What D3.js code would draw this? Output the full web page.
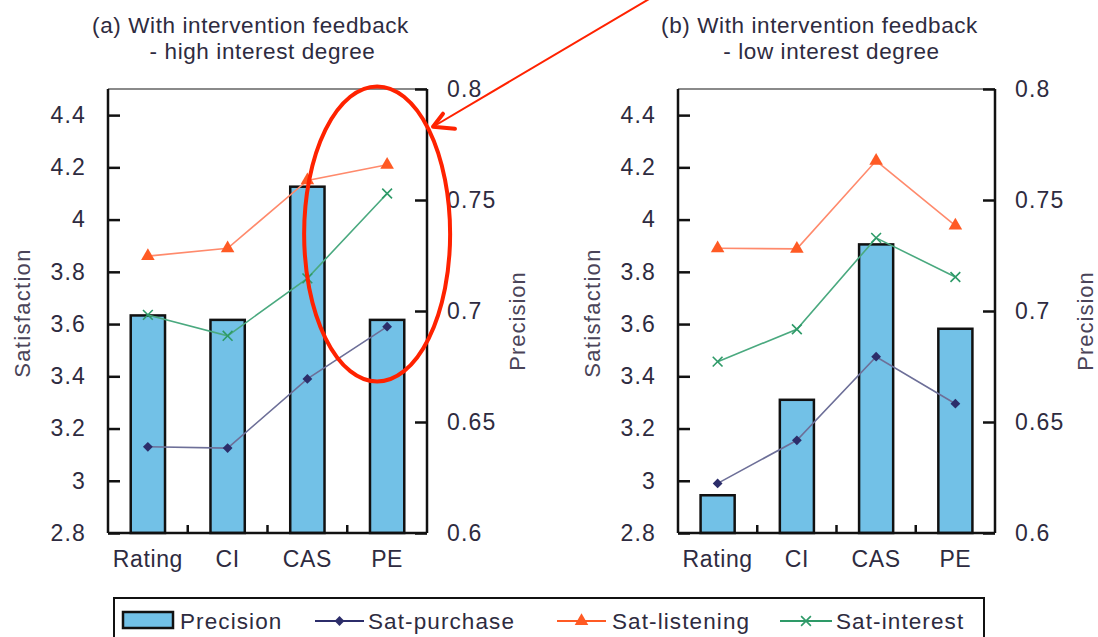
<!DOCTYPE html>
<html>
<head>
<meta charset="utf-8">
<script src="https://cdn.jsdelivr.net/npm/d3@7"></script>
<style>
  html, body { margin: 0; padding: 0; background: #fff; }
  svg { display: block; }
  text { font-family: "Liberation Sans", Arial, sans-serif; }
</style>
</head>
<body>
<svg id="chart" width="1098" height="637"></svg>
<script>
// Categories shared by both panels
const categories = ["Rating", "CI", "CAS", "PE"];

// Panel (a): high interest degree
const precisionHigh   = [0.698, 0.696, 0.756, 0.696];
const purchaseHigh    = [3.13, 3.125, 3.39, 3.59];
const listeningHigh   = [3.86, 3.89, 4.15, 4.21];
const interestHigh    = [3.635, 3.555, 3.775, 4.10];

// Panel (b): low interest degree
const precisionLow    = [0.617, 0.660, 0.730, 0.692];
const purchaseLow     = [2.99, 3.155, 3.475, 3.295];
const listeningLow    = [3.89, 3.888, 4.225, 3.977];
const interestLow     = [3.456, 3.58, 3.93, 3.78];

// Axis ticks
const satTicks  = [2.8, 3, 3.2, 3.4, 3.6, 3.8, 4, 4.2, 4.4];
const precTicks = [0.6, 0.65, 0.7, 0.75, 0.8];

const panels = [
  { title1: "(a) With intervention feedback", title2: "- high interest degree",
    precision: precisionHigh, purchase: purchaseHigh, listening: listeningHigh, interest: interestHigh,
    x0: 108, x1: 427 },
  { title1: "(b) With intervention feedback", title2: "- low interest degree",
    precision: precisionLow, purchase: purchaseLow, listening: listeningLow, interest: interestLow,
    x0: 678, x1: 995 }
];

const colors = {
  bar: "#72c1e7",
  purchase: "#2c2d6a", purchaseLine: "#6d6f98",
  listening: "#ff5a24", listeningLine: "#ff8a6c",
  interest: "#2e9a68", interestLine: "#4aa97f",
  text: "#2e2b40", axisTitle: "#4a4458"
};

const plotTop = 89, plotBottom = 533;
const svg = d3.select("#chart");

// Marker painters
function drawDiamond(g, x, y, c) {
  g.append("path").attr("d", d3.symbol(d3.symbolSquare, 48)())
    .attr("transform", `translate(${x},${y}) rotate(45)`).attr("fill", c);
}
function drawTriangle(g, x, y, c) {
  g.append("path").attr("d", d3.symbol(d3.symbolTriangle, 80)())
    .attr("transform", `translate(${x},${y})`).attr("fill", c);
}
function drawCross(g, x, y, c) {
  g.append("path").attr("d", d3.symbol(d3.symbolX, 64)())
    .attr("transform", `translate(${x},${y})`)
    .attr("fill", "none").attr("stroke", c).attr("stroke-width", 1.6);
}

const ySat = d3.scaleLinear().domain([2.8, 4.5]).range([plotBottom, plotTop]);
const yPrec = d3.scaleLinear().domain([0.6, 0.8]).range([plotBottom, plotTop]);

panels.forEach(p => {
  const g = svg.append("g");
  const x = d3.scaleBand().domain(categories).range([p.x0, p.x1])
    .paddingInner(0.57).paddingOuter(0.285);
  const cx = c => x(c) + x.bandwidth() / 2;
  const mid = (p.x0 + p.x1) / 2;

  // Titles
  g.append("text").attr("x", mid - 17).attr("y", 33).attr("text-anchor", "middle")
    .attr("font-size", 22.5).attr("letter-spacing", 0.6).attr("fill", colors.text).text(p.title1);
  g.append("text").attr("x", mid - 5).attr("y", 59).attr("text-anchor", "middle")
    .attr("font-size", 22.5).attr("letter-spacing", 0.6).attr("fill", colors.text).text(p.title2);

  // Bars on the precision axis
  g.selectAll("rect.bar").data(categories).join("rect")
    .attr("class", "bar")
    .attr("x", d => x(d)).attr("width", x.bandwidth())
    .attr("y", (d, i) => yPrec(p.precision[i]))
    .attr("height", (d, i) => plotBottom - yPrec(p.precision[i]))
    .attr("fill", colors.bar).attr("stroke", "#111").attr("stroke-width", 2.5);

  // Frame: grey top edge
  g.append("line").attr("x1", p.x0).attr("x2", p.x1).attr("y1", plotTop).attr("y2", plotTop)
    .attr("stroke", "#8a8a8a").attr("stroke-width", 2);

  // Left satisfaction axis (ticks point inward)
  const left = d3.axisLeft(ySat).tickValues(satTicks).tickSize(-12).tickPadding(22)
    .tickFormat(d3.format("~g"));
  const gl = g.append("g").attr("transform", `translate(${p.x0},0)`).call(left);
  gl.select(".domain").attr("stroke", "#111").attr("stroke-width", 2.5)
    .attr("d", `M0,${plotTop}V${plotBottom}`);
  gl.selectAll(".tick line").attr("stroke", "#111").attr("stroke-width", 2.5);
  gl.selectAll(".tick text").attr("font-size", 23).attr("letter-spacing", 1.2)
    .attr("fill", colors.text).attr("font-family", "Liberation Sans, Arial, sans-serif");

  // Right precision axis (ticks point inward)
  const right = d3.axisRight(yPrec).tickValues(precTicks).tickSize(-12).tickPadding(20)
    .tickFormat(d3.format("~g"));
  const gr = g.append("g").attr("transform", `translate(${p.x1},0)`).call(right);
  gr.select(".domain").attr("stroke", "#111").attr("stroke-width", 2.5)
    .attr("d", `M0,${plotTop}V${plotBottom}`);
  gr.selectAll(".tick line").attr("stroke", "#111").attr("stroke-width", 2.5);
  gr.selectAll(".tick text").attr("font-size", 23).attr("letter-spacing", 1.2)
    .attr("fill", colors.text).attr("font-family", "Liberation Sans, Arial, sans-serif");

  // Bottom category axis with separator ticks between bands
  g.append("line").attr("x1", p.x0).attr("x2", p.x1).attr("y1", plotBottom).attr("y2", plotBottom)
    .attr("stroke", "#111").attr("stroke-width", 2.5);
  const step = x.step();
  categories.slice(1).forEach((c, i) => {
    const bx = p.x0 + step * (i + 1);
    g.append("line").attr("x1", bx).attr("x2", bx).attr("y1", plotBottom).attr("y2", plotBottom - 8)
      .attr("stroke", "#111").attr("stroke-width", 2.5);
  });
  g.selectAll("text.cat").data(categories).join("text").attr("class", "cat")
    .attr("x", d => cx(d)).attr("y", plotBottom + 34).attr("text-anchor", "middle")
    .attr("font-size", 23).attr("letter-spacing", 0.6).attr("fill", colors.text).text(d => d);

  // Axis titles
  g.append("text").attr("transform", `translate(${p.x0 - 78},${(plotTop + plotBottom) / 2 + 2}) rotate(-90)`)
    .attr("text-anchor", "middle").attr("font-size", 22).attr("letter-spacing", 1.3)
    .attr("fill", colors.axisTitle).text("Satisfaction");
  g.append("text").attr("transform", `translate(${p.x1 + 98},${(plotTop + plotBottom) / 2 + 10}) rotate(-90)`)
    .attr("text-anchor", "middle").attr("font-size", 22).attr("letter-spacing", 1.0)
    .attr("fill", colors.axisTitle).text("Precision");

  // Satisfaction series
  const series = [
    { vals: p.purchase, line: colors.purchaseLine, mark: colors.purchase, draw: drawDiamond },
    { vals: p.interest, line: colors.interestLine, mark: colors.interest, draw: drawCross },
    { vals: p.listening, line: colors.listeningLine, mark: colors.listening, draw: drawTriangle }
  ];
  const lineGen = d3.line().x((d, i) => cx(categories[i])).y(d => ySat(d));
  series.forEach(s => {
    g.append("path").attr("d", lineGen(s.vals)).attr("fill", "none")
      .attr("stroke", s.line).attr("stroke-width", 1.6);
    s.vals.forEach((v, i) => s.draw(g, cx(categories[i]), ySat(v), s.mark));
  });

  p.xScale = x;
});

// Legend
const legend = svg.append("g");
legend.append("rect").attr("x", 114).attr("y", 598).attr("width", 870).attr("height", 60)
  .attr("fill", "none").attr("stroke", "#111").attr("stroke-width", 2);
legend.append("rect").attr("x", 123).attr("y", 612).attr("width", 50).attr("height", 16)
  .attr("fill", colors.bar).attr("stroke", "#111").attr("stroke-width", 2.5);
const legendText = (x, t) => legend.append("text").attr("x", x).attr("y", 629)
  .attr("font-size", 22.5).attr("letter-spacing", 1.1).attr("fill", colors.text).text(t);
legendText(180, "Precision");
const legendLine = (x1, x2, c, mc, draw) => {
  legend.append("line").attr("x1", x1).attr("x2", x2).attr("y1", 621).attr("y2", 621)
    .attr("stroke", c).attr("stroke-width", 2);
  draw(legend, (x1 + x2) / 2, 621, mc);
};
legendLine(315, 364, colors.purchase, colors.purchase, drawDiamond);
legendText(368, "Sat-purchase");
legendLine(557, 606, colors.listening, colors.listening, drawTriangle);
legendText(612, "Sat-listening");
legendLine(780, 832, colors.interest, colors.interest, drawCross);
legendText(836, "Sat-interest");

// Red highlight: ellipse around the PE results of panel (a) and an arrow pointing to it
const pa = panels[0];
const ellCx = pa.xScale("PE") + pa.xScale.bandwidth() / 2 - 10;
const ellTop = ySat(4.51), ellBot = ySat(3.38);
const note = svg.append("g");
note.append("ellipse").attr("cx", ellCx).attr("cy", (ellTop + ellBot) / 2)
  .attr("rx", 73).attr("ry", (ellBot - ellTop) / 2)
  .attr("fill", "none").attr("stroke", "#ff2200").attr("stroke-width", 4);
const tipX = pa.x1 + 6, tipY = yPrec(0.783);
note.append("line").attr("x1", tipX).attr("y1", tipY).attr("x2", tipX + 225).attr("y2", tipY - 133)
  .attr("stroke", "#ff2200").attr("stroke-width", 2);
note.append("path")
  .attr("d", `M${tipX + 22},${tipY + 2} L${tipX},${tipY} L${tipX + 10},${tipY - 13}`)
  .attr("fill", "none").attr("stroke", "#ff2200").attr("stroke-width", 4)
  .attr("stroke-linejoin", "round").attr("stroke-linecap", "round");
</script>
</body>
</html>
